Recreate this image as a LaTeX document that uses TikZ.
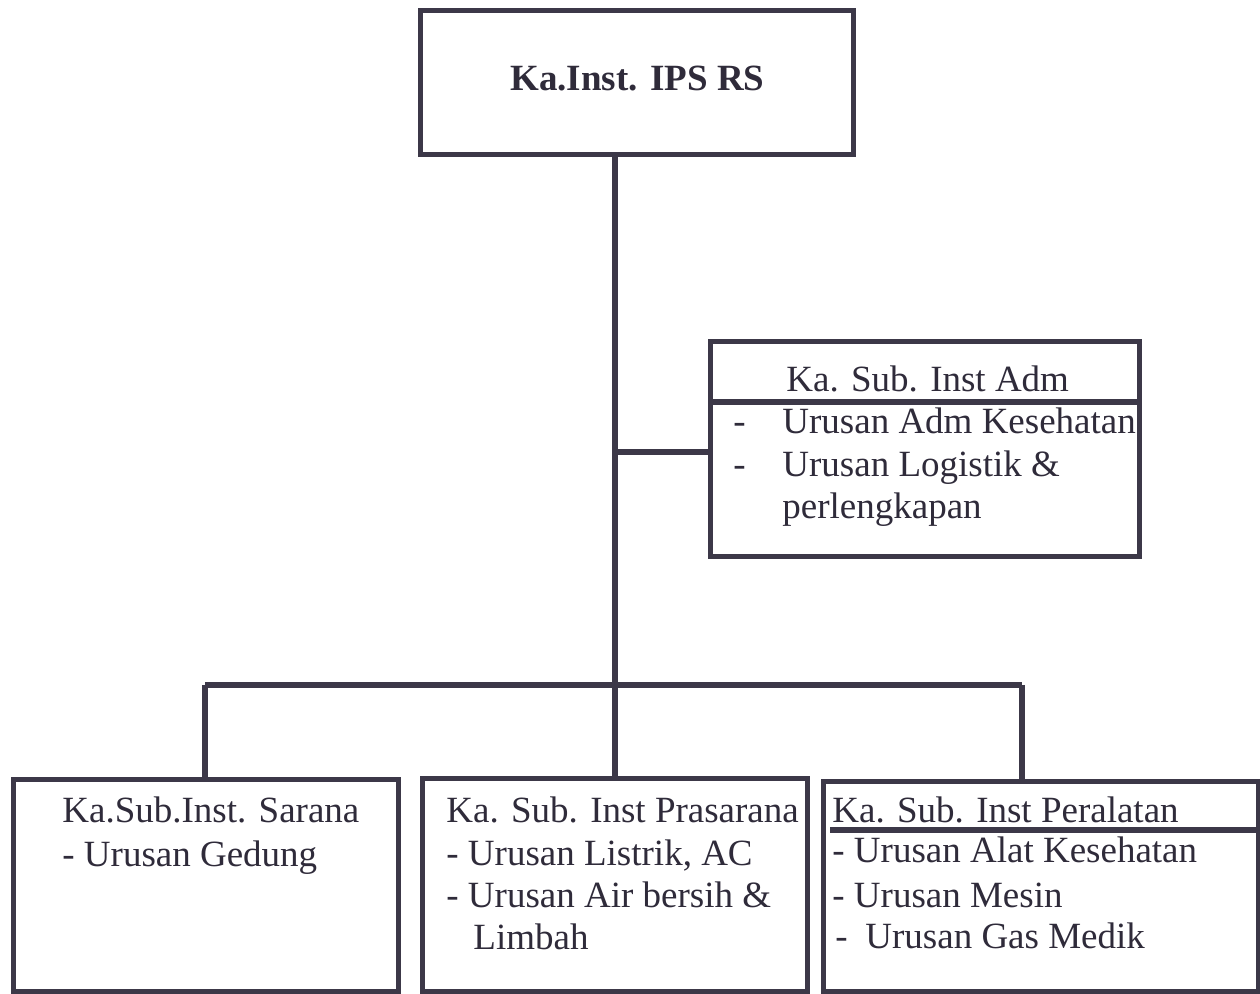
\documentclass[tikz,border=0pt]{standalone}
\usepackage{fontspec}
\setmainfont{Liberation Serif}
\definecolor{ink}{HTML}{3C3848}
\definecolor{txt}{HTML}{2F2B3A}
\begin{document}
\begin{tikzpicture}[x=0.5pt,y=-0.5pt,
  box/.style={draw=ink,line width=2.5pt,rectangle,inner sep=0pt,fill=none},
  conn/.style={draw=ink,line width=2.6pt},
  lbl/.style={anchor=base west,inner sep=0pt,text=txt,font=\fontsize{18.5}{22}\selectfont},
  blbl/.style={lbl,font=\fontsize{18.5}{22}\selectfont\bfseries}]
\useasboundingbox[fill=white] (0,0) rectangle (1260,994);
% boxes
\node[box,minimum width=216.5pt,minimum height=72pt] (top) at (636.5,83) {};
\node[box,minimum width=214.5pt,minimum height=107.5pt] (adm) at (924.5,449.5) {};
\node[box,minimum width=192.5pt,minimum height=105.5pt] (b1) at (205.5,885.5) {};
\node[box,minimum width=192.5pt,minimum height=106pt] (b2) at (614.5,885) {};
\node[box,minimum width=217.5pt,minimum height=104.5pt] (b3) at (1040.5,886.5) {};
% junction coordinates
\coordinate (bus) at (615,685);
\coordinate (bl) at (205,685);
\coordinate (br) at (1022,685);
\coordinate (ja) at (615,452);
\coordinate (da) at (710,402);
\coordinate (d3) at (830,830);
% connectors
\draw[conn] (top.south -| bus) -- (bus);
\draw[conn] (ja) -- (ja -| adm.west);
\draw[conn] (bl) -- (br);
\draw[conn] (bl) -- (bl |- b1.north);
\draw[conn] (bus) -- (bus |- b2.north);
\draw[conn] (br) -- (br |- b3.north);
% dividers
\draw[conn] (da) -- (da -| adm.east);
\draw[conn] (d3) -- (d3 -| b3.east);
% texts
\node[blbl] (t0) at (510,91) {Ka.Inst. IPS RS};
\node[lbl] (ta0) at (786,392) {Ka. Sub. Inst Adm};
\node[lbl] (ta1d) at (733,434) {-};
\node[lbl] (ta1) at (782,434) {Urusan Adm Kesehatan};
\node[lbl] (ta2d) at (733,477) {-};
\node[lbl] (ta2) at (782,477) {Urusan Logistik \&};
\node[lbl] (ta3) at (782,519) {perlengkapan};
\node[lbl] (t10) at (62,823) {Ka.Sub.Inst. Sarana};
\node[lbl] (t11) at (62,866) {- Urusan Gedung};
\node[lbl] (t20) at (446,822) {Ka. Sub. Inst Prasarana};
\node[lbl] (t21) at (446,865) {- Urusan Listrik, AC};
\node[lbl] (t22) at (446,907) {- Urusan Air bersih \&};
\node[lbl] (t23) at (473,950) {Limbah};
\node[lbl] (t30) at (832,822) {Ka. Sub. Inst Peralatan};
\node[lbl] (t31) at (832,863) {- Urusan Alat Kesehatan};
\node[lbl] (t32) at (832,907) {- Urusan Mesin};
\node[lbl] (t33d) at (835,949) {-};
\node[lbl] (t33) at (865,949) {Urusan Gas Medik};
\end{tikzpicture}
\end{document}
